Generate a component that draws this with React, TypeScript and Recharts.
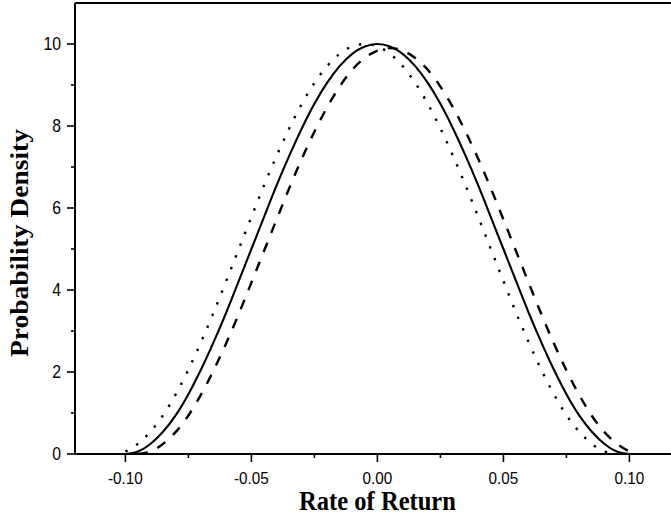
import React from "react";
import { LineChart, Line, XAxis, YAxis, ReferenceLine, Label } from "recharts";

const returns = [
  -0.1, -0.095, -0.09, -0.085, -0.08, -0.075, -0.07, -0.065, -0.06, -0.055,
  -0.05, -0.045, -0.04, -0.035, -0.03, -0.025, -0.02, -0.015, -0.01, -0.005,
  0, 0.005, 0.01, 0.015, 0.02, 0.025, 0.03, 0.035, 0.04, 0.045,
  0.05, 0.055, 0.06, 0.065, 0.07, 0.075, 0.08, 0.085, 0.09, 0.095, 0.1,
];

const solidDensity = [
  0, 0.06, 0.25, 0.55, 0.95, 1.46, 2.06, 2.73, 3.45, 4.22,
  5.0, 5.78, 6.55, 7.27, 7.94, 8.54, 9.05, 9.46, 9.76, 9.94,
  10.0, 9.94, 9.76, 9.46, 9.05, 8.54, 7.94, 7.27, 6.55, 5.78,
  5.0, 4.22, 3.45, 2.73, 2.06, 1.46, 0.95, 0.55, 0.25, 0.06, 0,
];

const dottedDensity = [
  0.06, 0.25, 0.55, 0.95, 1.46, 2.06, 2.73, 3.45, 4.22, 5.0,
  5.78, 6.55, 7.27, 7.94, 8.54, 9.05, 9.46, 9.76, 9.94, 10.0,
  9.94, 9.76, 9.46, 9.05, 8.54, 7.94, 7.27, 6.55, 5.78, 5.0,
  4.22, 3.45, 2.73, 2.06, 1.46, 0.95, 0.55, 0.25, 0.06, 0, null,
];

const dashedDensity = [
  null, 0, 0.06, 0.25, 0.54, 0.94, 1.45, 2.04, 2.7, 3.42,
  4.18, 4.95, 5.72, 6.48, 7.2, 7.86, 8.45, 8.96, 9.37, 9.66,
  9.84, 9.9, 9.84, 9.66, 9.37, 8.96, 8.45, 7.86, 7.2, 6.48,
  5.72, 4.95, 4.18, 3.42, 2.7, 2.04, 1.45, 0.94, 0.54, 0.25, 0.06,
];

const xMajorTicks = [-0.1, -0.05, 0, 0.05, 0.1];
const xTickLabels = ["-0.10", "-0.05", "0.00", "0.05", "0.10"];
const xMinorTicks = [-0.075, -0.025, 0.025, 0.075];
const yMajorTicks = [0, 2, 4, 6, 8, 10];
const yTickLabels = ["0", "2", "4", "6", "8", "10"];
const yMinorTicks = [1, 3, 5, 7, 9];

const xTitle = "Rate of Return";
const yTitle = "Probability Density";

const data = returns.map((x, i) => ({
  x,
  solid: solidDensity[i],
  dotted: dottedDensity[i],
  dashed: dashedDensity[i],
}));

const allXTicks = [...xMajorTicks, ...xMinorTicks].sort((a, b) => a - b);
const allYTicks = [...yMajorTicks, ...yMinorTicks].sort((a, b) => a - b);

const SANS = "'Liberation Sans', Arial, sans-serif";
const SERIF = "'Liberation Serif', 'Times New Roman', serif";

function findMajor(list: number[], v: number) {
  return list.findIndex((t) => Math.abs(t - v) < 1e-9);
}

const XTick = (props: any) => {
  const { x, y, payload } = props;
  const idx = findMajor(xMajorTicks, payload.value);
  const len = idx >= 0 ? 8 : 4;
  return (
    <g>
      <line x1={x} y1={y} x2={x} y2={y + len} stroke="#000" strokeWidth={1.6} />
      {idx >= 0 && (
        <text
          transform={`translate(${x},${y + 30}) scale(0.9,1)`}
          textAnchor="middle"
          fontFamily={SANS}
          fontSize={17}
          fill="#000"
        >
          {xTickLabels[idx]}
        </text>
      )}
    </g>
  );
};

const YTick = (props: any) => {
  const { x, y, payload } = props;
  const idx = findMajor(yMajorTicks, payload.value);
  const len = idx >= 0 ? 8 : 4;
  return (
    <g>
      <line x1={x - len} y1={y} x2={x} y2={y} stroke="#000" strokeWidth={1.6} />
      {idx >= 0 && (
        <text
          transform={`translate(${x - 14},${y + 6.3}) scale(0.9,1)`}
          textAnchor="end"
          fontFamily={SANS}
          fontSize={17.5}
          fill="#000"
        >
          {yTickLabels[idx]}
        </text>
      )}
    </g>
  );
};

export default function App() {
  return (
    <div style={{ position: "absolute", left: 0, top: 0, width: 671, height: 517, background: "#fff" }}>
      <LineChart
        width={671}
        height={517}
        data={data}
        margin={{ top: 3, right: 0, bottom: 0, left: 0 }}
      >
        <XAxis
          dataKey="x"
          type="number"
          domain={[-0.12, 0.1165]}
          ticks={allXTicks}
          interval={0}
          allowDataOverflow
          height={63}
          tickSize={0}
          tickMargin={0}
          tickLine={false}
          axisLine={{ stroke: "#000", strokeWidth: 2 }}
          tick={<XTick />}
        >
          <Label
            content={() => (
              <text
                transform="translate(377.5,510) scale(0.91,1)"
                textAnchor="middle"
                fontFamily={SERIF}
                fontWeight="bold"
                fontSize={27}
                fill="#000"
              >
                {xTitle}
              </text>
            )}
          />
        </XAxis>
        <YAxis
          type="number"
          domain={[0, 11]}
          ticks={allYTicks}
          interval={0}
          allowDataOverflow
          width={75}
          tickSize={0}
          tickMargin={0}
          tickLine={false}
          axisLine={{ stroke: "#000", strokeWidth: 2 }}
          tick={<YTick />}
        >
          <Label
            content={() => (
              <text
                transform="translate(28,243) rotate(-90) scale(1,0.9)"
                textAnchor="middle"
                fontFamily={SERIF}
                fontWeight="bold"
                fontSize={27.5}
                fill="#000"
              >
                {yTitle}
              </text>
            )}
          />
        </YAxis>
        <ReferenceLine y={11} stroke="#000" strokeWidth={2} />
        <Line
          dataKey="dotted"
          type="monotone"
          stroke="#000"
          strokeWidth={2.4}
          strokeDasharray="2.4 10.2"
          dot={false}
          isAnimationActive={false}
        />
        <Line
          dataKey="dashed"
          type="monotone"
          stroke="#000"
          strokeWidth={2.4}
          strokeDasharray="10 10.5"
          dot={false}
          isAnimationActive={false}
        />
        <Line
          dataKey="solid"
          type="monotone"
          stroke="#000"
          strokeWidth={2.1}
          dot={false}
          isAnimationActive={false}
        />
      </LineChart>
    </div>
  );
}
